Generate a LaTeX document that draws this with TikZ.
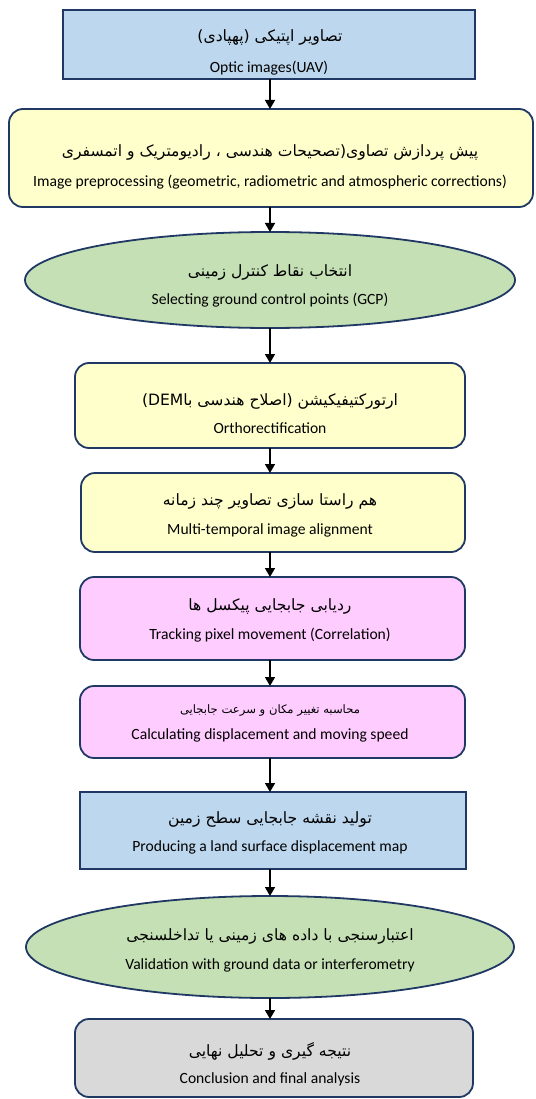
\documentclass[tikz,border=0pt]{standalone}
\usepackage{fontspec}
\setmainfont{Carlito}
\newfontfamily\fa[Script=Arabic]{DejaVu Sans}
\TeXXeTstate=1
\usetikzlibrary{shapes.geometric,arrows.meta}
\definecolor{bord}{HTML}{1F3864}
\definecolor{blueF}{HTML}{BDD7EE}
\definecolor{yelF}{HTML}{FFFFCC}
\definecolor{greenF}{HTML}{C5E0B4}
\definecolor{pinkF}{HTML}{FFCCFF}
\definecolor{grayF}{HTML}{D9D9D9}
\tikzset{
  base/.style={draw=bord,line width=1.8pt,inner sep=0pt,outer sep=0pt},
  sqbox/.style={base,rectangle},
  rbox/.style={base,rectangle,rounded corners=14pt},
  ebox/.style={base,ellipse},
  fat/.style={inner sep=0pt,font={\fa\fontsize{15.6}{18}\selectfont}},
  fatsmall/.style={inner sep=0pt,font={\fa\fontsize{11.6}{14}\selectfont}},
  ent/.style={inner sep=0pt,font={\fontsize{15.6}{18}\selectfont}},
  arr/.style={line width=1.6pt,-{Triangle[width=10pt,length=9pt]}}
}
\begin{document}
\begin{tikzpicture}[x=1pt,y=-1pt]
\useasboundingbox (0,0) rectangle (535,1099);
\coordinate (axis) at (270,0);
% boxes
\node[sqbox,fill=blueF,minimum width=412pt,minimum height=69pt] (b1) at (269,44.5) {};
\node[rbox,fill=yelF,minimum width=524pt,minimum height=98pt] (b2) at (271,158) {};
\node[ebox,fill=greenF,minimum width=490pt,minimum height=96pt] (b3) at (270,280) {};
\node[rbox,fill=yelF,minimum width=390pt,minimum height=85pt] (b4) at (270,405.5) {};
\node[rbox,fill=yelF,minimum width=384pt,minimum height=79pt] (b5) at (273,512.5) {};
\node[rbox,fill=pinkF,minimum width=385pt,minimum height=83pt] (b6) at (272.5,618.5) {};
\node[rbox,fill=pinkF,minimum width=385pt,minimum height=72pt] (b7) at (272.5,722) {};
\node[sqbox,fill=blueF,minimum width=386pt,minimum height=77pt] (b8) at (273,830.5) {};
\node[ebox,fill=greenF,minimum width=488pt,minimum height=102pt] (b9) at (270,947) {};
\node[rbox,fill=grayF,minimum width=398pt,minimum height=78pt] (b10) at (274,1058) {};
% texts
\node[fat] (t1a) at (270,37) {\beginR تصاویر اپتیکی (پهپادی)\endR};
\begin{scope}
  \clip ([yshift=0.9pt]b1.south west) rectangle (b1.north east);
  \node[ent] (t1b) at (269,68) {Optic images(UAV)};
\end{scope}
\node[fat] (t2a) at (270,152) {\beginR پیش پردازش تصاوی(تصحیحات هندسی ، رادیومتریک و اتمسفری\endR};
\node[ent] (t2b) at (270,182) {Image preprocessing (geometric, radiometric and atmospheric corrections)};
\node[fat] (t3a) at (270,272) {\beginR انتخاب نقاط کنترل زمینی\endR};
\node[ent] (t3b) at (270,300) {Selecting ground control points (GCP)};
\node[fat] (t4a) at (270,401) {\beginR ارتورکتیفیکیشن (اصلاح هندسی با\beginL DEM\endL)\endR};
\node[ent] (t4b) at (270,428) {Orthorectification};
\node[fat] (t5a) at (270,501) {\beginR هم راستا سازی تصاویر چند زمانه\endR};
\node[ent] (t5b) at (270,530) {Multi-temporal image alignment};
\node[fat] (t6a) at (270,606) {\beginR ردیابی جابجایی پیکسل ها\endR};
\node[ent] (t6b) at (270,635) {Tracking pixel movement (Correlation)};
\node[fatsmall] (t7a) at (270,711) {\beginR محاسبه تغییر مکان و سرعت جابجایی\endR};
\node[ent] (t7b) at (270,735) {Calculating displacement and moving speed};
\node[fat] (t8a) at (270,819) {\beginR تولید نقشه جابجایی سطح زمین\endR};
\node[ent] (t8b) at (270,847) {Producing a land surface displacement map};
\node[fat] (t9a) at (270,936) {\beginR اعتبارسنجی با داده های زمینی یا تداخلسنجی\endR};
\node[ent] (t9b) at (270,965) {Validation with ground data or interferometry};
\node[fat] (t10a) at (270,1051) {\beginR نتیجه گیری و تحلیل نهایی\endR};
\node[ent] (t10b) at (270,1079) {Conclusion and final analysis};
% redraw border of first box over its clipped text
\draw[draw=bord,line width=1.8pt] (b1.south west) rectangle (b1.north east);
% arrows
\draw[arr] (b1.south -| axis) -- (b2.north -| axis);
\draw[arr] (b2.south -| axis) -- (b3.north -| axis);
\draw[arr] (b3.south -| axis) -- (b4.north -| axis);
\draw[arr] (b4.south -| axis) -- (b5.north -| axis);
\draw[arr] (b5.south -| axis) -- (b6.north -| axis);
\draw[arr] (b6.south -| axis) -- (b7.north -| axis);
\draw[arr] (b7.south -| axis) -- (b8.north -| axis);
\draw[arr] (b8.south -| axis) -- (b9.north -| axis);
\draw[arr] (b9.south -| axis) -- (b10.north -| axis);
\end{tikzpicture}
\end{document}
